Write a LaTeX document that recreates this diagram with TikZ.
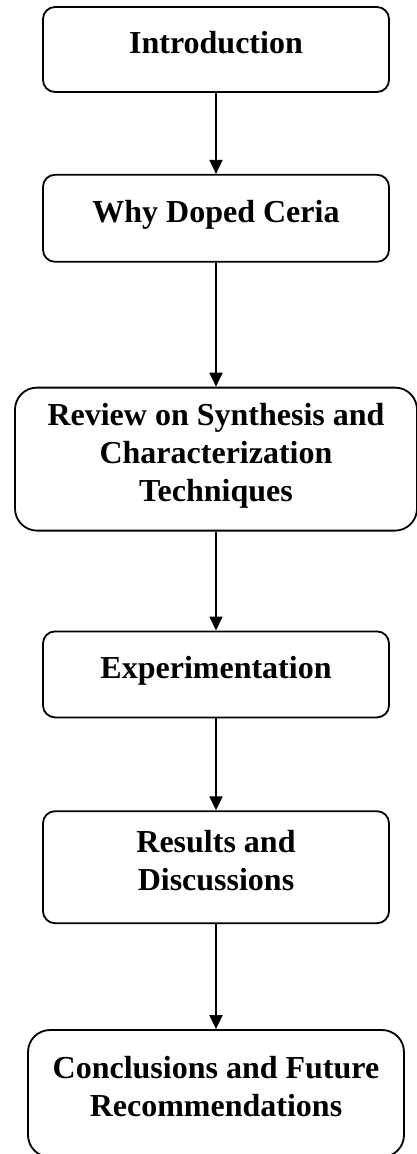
\documentclass[tikz,border=0pt]{standalone}
\usepackage{fontspec}
\setmainfont{Liberation Serif}
\usetikzlibrary{positioning, arrows.meta}

\begin{document}
\begin{tikzpicture}[x=1pt, y=1pt, line width=1.8pt,
    block/.style={draw, rounded corners=12pt, align=center, minimum width=346pt,
        text depth=14pt, font=\bfseries\fontsize{32}{38}\selectfont},
    bigblock/.style={block, rounded corners=22pt}]
    \useasboundingbox (0,0) rectangle (417,-1154);
    \node[block, minimum height=85pt] (intro) at (216,-49.5) {Introduction};
    \node[block, minimum height=87pt] (why) [below=81pt of intro] {Why Doped Ceria};
    \node[bigblock, minimum width=402pt, minimum height=143pt] (review) [below=124pt of why] {Review on Synthesis and\\Characterization\\Techniques};
    \node[block, minimum height=86pt] (exp) [below=99pt of review] {Experimentation};
    \node[block, minimum height=112pt] (results) [below=92pt of exp] {Results and\\Discussions};
    \node[bigblock, minimum width=376pt, minimum height=127pt] (concl) [below=105pt of results] {Conclusions and Future\\Recommendations};
        \path[-{Triangle[length=14pt, width=13pt]}]
        (intro)   edge (why)
        (why)     edge (review)
        (review)  edge (exp)
        (exp)     edge (results)
        (results) edge (concl);

\end{tikzpicture}
\end{document}
